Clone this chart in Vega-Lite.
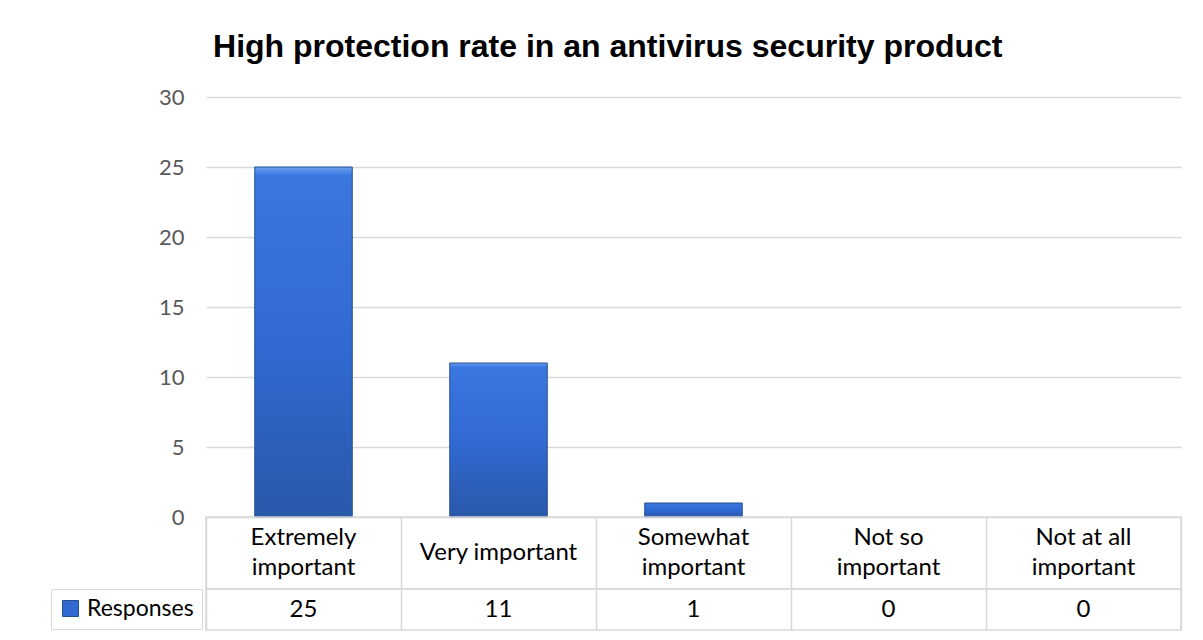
{
  "$schema": "https://vega.github.io/schema/vega-lite/v6.json",
  "background": "white",
  "padding": {"left": 49, "top": 31, "right": 23, "bottom": 8},
  "bounds": "flush",
  "title": {"text": "High protection rate in an antivirus security product", "font": "Liberation Sans", "fontSize": 32, "fontWeight": "bold", "color": "#000000", "anchor": "middle", "offset": 22, "dx": -8},
  "spacing": 0,
  "resolve": {"legend": {"color": "independent"}},
  "datasets": {
    "responses": [
      {"category": "Extremely important", "label": "Extremely\nimportant", "value": 25, "series": "Responses"},
      {"category": "Very important", "label": "Very important", "value": 11, "series": "Responses"},
      {"category": "Somewhat important", "label": "Somewhat\nimportant", "value": 1, "series": "Responses"},
      {"category": "Not so important", "label": "Not so\nimportant", "value": 0, "series": "Responses"},
      {"category": "Not at all important", "label": "Not at all\nimportant", "value": 0, "series": "Responses"}
    ]
  },
  "vconcat": [
    {
      "width": 975,
      "height": 420,
      "view": {"stroke": null},
      "data": {"name": "responses"},
      "mark": {
        "type": "bar",
        "stroke": "#24508f",
        "strokeWidth": 1,
        "fill": {"x1": 0, "y1": 0, "x2": 0, "y2": 1, "gradient": "linear", "stops": [
          {"offset": 0, "color": "#6aa0f0"},
          {"offset": 0.025, "color": "#3a77df"},
          {"offset": 0.5, "color": "#316ad3"},
          {"offset": 1, "color": "#2a58aa"}
        ]}
      },
      "encoding": {
        "x": {"field": "category", "type": "nominal", "axis": null,
              "sort": ["Extremely important", "Very important", "Somewhat important", "Not so important", "Not at all important"],
              "scale": {"paddingInner": 0.5, "paddingOuter": 0.25}},
        "y": {"field": "value", "type": "quantitative",
              "scale": {"domain": [0, 30], "nice": false},
              "axis": {"values": [0, 5, 10, 15, 20, 25, 30], "title": null, "ticks": false, "domain": false,
                       "labelFont": "Lato", "labelFontSize": 22, "labelColor": "#595959", "labelPadding": 22,
                       "gridColor": "#d9d9d9", "gridWidth": 1.5}},
        "strokeOpacity": {"condition": {"test": "datum.value > 0", "value": 1}, "value": 0}
      }
    },
    {
      "width": 975,
      "height": 72,
      "view": {"stroke": "#d9d9d9", "strokeWidth": 1.5},
      "data": {"name": "responses"},
      "encoding": {
        "x": {"field": "category", "type": "nominal",
              "sort": ["Extremely important", "Very important", "Somewhat important", "Not so important", "Not at all important"],
              "scale": {"paddingInner": 0, "paddingOuter": 0},
              "axis": {"title": null, "labels": false, "ticks": false, "domain": false, "grid": true,
                       "tickBand": "extent", "gridColor": "#d9d9d9", "gridWidth": 1.5}},
        "text": {"field": "label"}
      },
      "layer": [
        {
          "transform": [{"filter": "indexof(datum.label, '\\n') >= 0"}],
          "mark": {"type": "text", "font": "Lato", "fontSize": 24, "color": "#000000", "lineBreak": "\n", "lineHeight": 30, "dy": -15}
        },
        {
          "transform": [{"filter": "indexof(datum.label, '\\n') < 0"}],
          "mark": {"type": "text", "font": "Lato", "fontSize": 24, "color": "#000000"}
        }
      ]
    },
    {
      "width": 975,
      "height": 41,
      "view": {"stroke": "#d9d9d9", "strokeWidth": 1.5},
      "data": {"name": "responses"},
      "encoding": {
        "x": {"field": "category", "type": "nominal",
              "sort": ["Extremely important", "Very important", "Somewhat important", "Not so important", "Not at all important"],
              "scale": {"paddingInner": 0, "paddingOuter": 0},
              "axis": {"title": null, "labels": false, "ticks": false, "domain": false, "grid": true,
                       "tickBand": "extent", "gridColor": "#d9d9d9", "gridWidth": 1.5}}
      },
      "layer": [
        {
          "mark": {"type": "point", "shape": "square", "opacity": 0, "filled": true},
          "encoding": {
            "color": {"field": "series", "type": "nominal",
                      "scale": {"range": ["#3169d0"]},
                      "legend": {"title": null, "orient": "none", "legendX": -155, "legendY": 0,
                                 "strokeColor": "#d9d9d9", "padding": 8, "cornerRadius": 0,
                                 "symbolType": "square", "symbolSize": 256, "symbolOpacity": 1,
                                 "symbolStrokeColor": "#24508f", "symbolStrokeWidth": 1, "labelOffset": 5,
                                 "labelFont": "Lato", "labelFontSize": 23, "labelColor": "#000000"}}
          }
        },
        {
          "mark": {"type": "text", "font": "Lato", "fontSize": 24, "color": "#000000"},
          "encoding": {"text": {"field": "value", "type": "quantitative"}}
        }
      ]
    }
  ]
}
